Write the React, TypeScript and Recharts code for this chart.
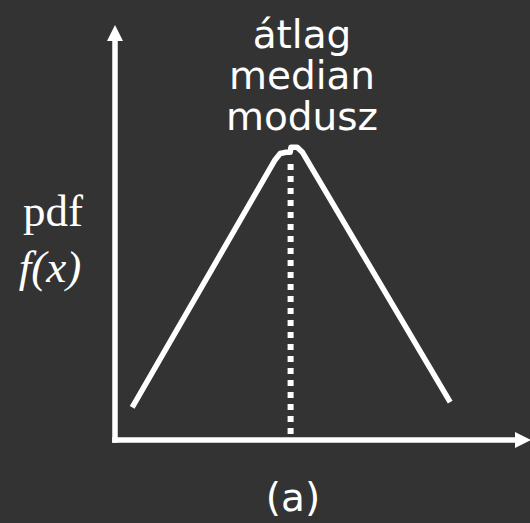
import { LineChart, Line, XAxis, YAxis, ReferenceLine } from "recharts";

// curve of the pdf (x and y both on a 0..100 scale)
const curveX = [4.3, 40, 41.3, 42.8, 43.8, 44, 45.5, 46.8, 83.8];
const curveY = [8.2, 70.2, 71.8, 72.1, 72.1, 73.4, 73.4, 72.2, 9.5];

// where the mean / median / mode line sits
const centerX = 43.9;
const centerLineY = [1.5, 70.5];

const titleLines = ["átlag", "median", "modusz"];

const data = curveX.map((x, i) => ({ x, y: curveY[i] }));

const BG = "#333333";
const FG = "#ffffff";

export default function App() {
    return (
        <div
            style={{
                position: "absolute",
                left: 0,
                top: 0,
                width: 530,
                height: 523,
                background: BG,
            }}
        >
            <LineChart
                width={530}
                height={523}
                data={data}
                margin={{ top: 41, right: 15, bottom: 83, left: 115 }}
            >
                <defs>
                    <marker
                        id="arrow"
                        viewBox="0 0 16 16"
                        refX={0}
                        refY={8}
                        markerWidth={16}
                        markerHeight={16}
                        markerUnits="userSpaceOnUse"
                        orient="auto"
                    >
                        <path d="M0,0 L16,8 L0,16 Z" fill={FG} />
                    </marker>
                </defs>

                <XAxis type="number" dataKey="x" domain={[0, 100]} hide />
                <YAxis type="number" domain={[0, 100]} hide />

                {/* axes with arrow heads */}
                <ReferenceLine
                    segment={[{ x: 0, y: 0 }, { x: 100, y: 0 }]}
                    stroke={FG}
                    strokeWidth={5.5}
                    strokeLinecap="square"
                    markerEnd="url(#arrow)"
                />
                <ReferenceLine
                    segment={[{ x: 0, y: 0 }, { x: 0, y: 100 }]}
                    stroke={FG}
                    strokeWidth={5.5}
                    strokeLinecap="square"
                    markerEnd="url(#arrow)"
                />

                <ReferenceLine
                    segment={[
                        { x: centerX, y: centerLineY[0] },
                        { x: centerX, y: centerLineY[1] },
                    ]}
                    stroke={FG}
                    strokeWidth={6}
                    strokeDasharray="6 6"
                />

                <Line
                    type="linear"
                    dataKey="y"
                    stroke={FG}
                    strokeWidth={5.5}
                    strokeLinejoin="round"
                    dot={false}
                    activeDot={false}
                    isAnimationActive={false}
                />

                <g fill={FG} fontFamily="'DejaVu Sans', sans-serif" fontSize={39} textAnchor="middle">
                    {titleLines.map((t, i) => (
                        <text key={t} x={302} y={48 + i * 41}>
                            {t}
                        </text>
                    ))}
                    <text x={293} y={511}>(a)</text>
                </g>

                <g fill={FG} fontFamily="'Liberation Serif', serif" fontSize={45} textAnchor="middle">
                    <text x={53} y={226}>pdf</text>
                    <text x={50} y={282} fontStyle="italic">f(x)</text>
                </g>
            </LineChart>
        </div>
    );
}
